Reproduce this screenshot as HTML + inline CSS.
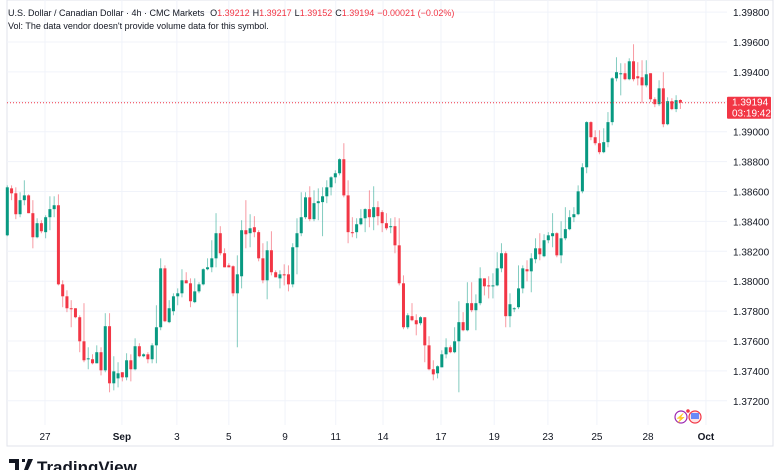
<!DOCTYPE html>
<html><head><meta charset="utf-8"><style>
body{margin:0;background:#fff;width:780px;height:470px;overflow:hidden;font-family:"Liberation Sans",sans-serif}
svg{position:absolute;left:0;top:0}
</style></head><body>
<svg id="chart" width="780" height="470">
<rect x="7" y="0" width="766" height="446" fill="none" stroke="#e0e3eb" stroke-width="1"/>
<g id="grid"></g>
<g id="candles"></g>
<g id="yaxis"></g>
<g id="xaxis"></g>
<text x="8" y="16" font-size="9" fill="#131722">U.S. Dollar / Canadian Dollar · 4h · CMC Markets <tspan dx="3">O</tspan><tspan fill="#f23645">1.39212</tspan><tspan dx="3">H</tspan><tspan fill="#f23645">1.39217</tspan><tspan dx="3">L</tspan><tspan fill="#f23645">1.39152</tspan><tspan dx="3">C</tspan><tspan fill="#f23645">1.39194</tspan><tspan dx="3" fill="#f23645">−0.00021 (−0.02%)</tspan></text>
<text x="8" y="29" font-size="9" fill="#131722">Vol: The data vendor doesn't provide volume data for this symbol.</text>
<g>
<circle cx="681" cy="417" r="6" fill="#fff" stroke="#9c27b0" stroke-width="1.2"/>
<text x="681" y="421" font-size="9" fill="#9c27b0" text-anchor="middle">⚡</text>
<circle cx="695" cy="417" r="6" fill="#fde4e6" stroke="#f23645" stroke-width="1.2"/>
<rect x="691" y="413" width="8" height="6" fill="#2962ff" opacity="0.7"/>
<circle cx="688" cy="411" r="1.8" fill="#f23645"/>
</g>
<g>
<path d="M9 459h10v11h-4v-7h-6z M22 459h3v3h-3z M28 459h5l-5 11h-4z" fill="#131722"/>
<text x="37" y="473" font-size="17" fill="#131722" font-weight="bold">TradingView</text>
</g>
</svg>
<script>
const open=[1.38307,1.38621,1.38588,1.38448,1.38542,1.38574,1.38455,1.38294,1.38388,1.38328,1.38428,1.38482,1.38508,1.37979,1.37899,1.37819,1.37819,1.37759,1.37598,1.37478,1.37478,1.37451,1.37525,1.37404,1.37699,1.37317,1.37350,1.37391,1.37357,1.37471,1.37411,1.37565,1.37498,1.37511,1.37478,1.37571,1.37692,1.38086,1.37726,1.37799,1.37899,1.37919,1.38006,1.37986,1.37860,1.37932,1.37979,1.38080,1.38093,1.38153,1.38321,1.38187,1.38106,1.38100,1.37919,1.38033,1.38341,1.38321,1.38361,1.38328,1.38153,1.38006,1.38207,1.38060,1.38019,1.38046,1.38046,1.37979,1.38227,1.38321,1.38428,1.38561,1.38415,1.38522,1.38529,1.38568,1.38628,1.38695,1.38722,1.38816,1.38574,1.38328,1.38328,1.38381,1.38421,1.38482,1.38428,1.38495,1.38462,1.38388,1.38361,1.38368,1.38240,1.37986,1.37692,1.37766,1.37739,1.37719,1.37759,1.37571,1.37411,1.37384,1.37424,1.37511,1.37558,1.37525,1.37598,1.37726,1.37672,1.37853,1.37806,1.37853,1.38019,1.37972,1.37966,1.37972,1.38086,1.38187,1.37766,1.37813,1.37826,1.37952,1.38080,1.38066,1.38147,1.38220,1.38167,1.38274,1.38301,1.38321,1.38173,1.38287,1.38348,1.38428,1.38448,1.38601,1.38762,1.39064,1.38963,1.38923,1.38863,1.38930,1.39064,1.39357,1.39384,1.39391,1.39351,1.39471,1.39371,1.39364,1.39310,1.39391,1.39217,1.39184,1.39290,1.39050,1.39204,1.39151,1.39212];
const high=[1.38641,1.38641,1.38628,1.38595,1.38675,1.38581,1.38542,1.38421,1.38408,1.38441,1.38568,1.38568,1.38581,1.38006,1.37939,1.37873,1.37819,1.37772,1.37853,1.37558,1.37511,1.37571,1.37558,1.37786,1.37786,1.37498,1.37458,1.37391,1.37518,1.37511,1.37618,1.37585,1.37518,1.37525,1.37585,1.37839,1.38153,1.38106,1.37873,1.37919,1.37952,1.38080,1.38060,1.38019,1.38019,1.37993,1.38086,1.38153,1.38274,1.38455,1.38368,1.38220,1.38120,1.38106,1.38173,1.38408,1.38542,1.38448,1.38435,1.38341,1.38254,1.38267,1.38334,1.38073,1.38073,1.38113,1.38106,1.38254,1.38421,1.38595,1.38595,1.38635,1.38608,1.38621,1.38628,1.38675,1.38702,1.38742,1.38822,1.38923,1.38675,1.38428,1.38421,1.38482,1.38488,1.38608,1.38635,1.38535,1.38475,1.38455,1.38421,1.38428,1.38421,1.38039,1.37786,1.37853,1.37779,1.37766,1.37759,1.37632,1.37471,1.37437,1.37538,1.37618,1.37571,1.37692,1.37866,1.37793,1.37993,1.37993,1.37912,1.38093,1.38019,1.38033,1.38053,1.38194,1.38254,1.38200,1.37919,1.37826,1.38106,1.38106,1.38140,1.38187,1.38287,1.38321,1.38314,1.38328,1.38455,1.38328,1.38401,1.38495,1.38475,1.38495,1.38641,1.38789,1.39070,1.39070,1.39010,1.39010,1.39023,1.39131,1.39364,1.39498,1.39458,1.39458,1.39491,1.39585,1.39465,1.39478,1.39478,1.39391,1.39230,1.39344,1.39398,1.39230,1.39224,1.39244,1.39217];
const low=[1.38301,1.38542,1.38415,1.38428,1.38508,1.38455,1.38220,1.38287,1.38321,1.38287,1.38341,1.38428,1.37972,1.37826,1.37793,1.37692,1.37752,1.37525,1.37458,1.37411,1.37444,1.37451,1.37370,1.37391,1.37257,1.37270,1.37290,1.37330,1.37337,1.37330,1.37404,1.37491,1.37491,1.37451,1.37451,1.37451,1.37672,1.37726,1.37719,1.37772,1.37839,1.37892,1.37986,1.37826,1.37853,1.37919,1.37972,1.38073,1.38060,1.38093,1.38173,1.38093,1.38093,1.37899,1.37558,1.37952,1.38220,1.38227,1.38294,1.38133,1.37986,1.37879,1.38039,1.38026,1.37952,1.37972,1.37932,1.37959,1.38046,1.38301,1.38415,1.38401,1.38401,1.38408,1.38301,1.38522,1.38574,1.38655,1.38708,1.38561,1.38254,1.38294,1.38287,1.38374,1.38328,1.38361,1.38341,1.38374,1.38328,1.38341,1.38321,1.38187,1.37972,1.37679,1.37679,1.37732,1.37638,1.37705,1.37458,1.37404,1.37337,1.37350,1.37424,1.37484,1.37518,1.37518,1.37257,1.37665,1.37665,1.37793,1.37672,1.37839,1.37905,1.37885,1.37885,1.37966,1.38060,1.37692,1.37692,1.37793,1.37813,1.37919,1.37999,1.37926,1.38120,1.38140,1.38160,1.38254,1.38227,1.38160,1.38120,1.38274,1.38341,1.38395,1.38441,1.38588,1.38722,1.38943,1.38909,1.38849,1.38856,1.38896,1.39043,1.39337,1.39243,1.39344,1.39344,1.39337,1.39310,1.39191,1.39297,1.39198,1.39164,1.39171,1.39030,1.39043,1.39144,1.39131,1.39152];
const close=[1.38628,1.38588,1.38448,1.38542,1.38574,1.38455,1.38294,1.38388,1.38334,1.38428,1.38482,1.38508,1.37979,1.37899,1.37819,1.37813,1.37759,1.37598,1.37471,1.37484,1.37451,1.37525,1.37404,1.37699,1.37317,1.37397,1.37384,1.37357,1.37471,1.37411,1.37565,1.37498,1.37511,1.37478,1.37571,1.37692,1.38086,1.37732,1.37819,1.37899,1.37919,1.38006,1.37986,1.37866,1.37932,1.37979,1.38080,1.38093,1.38153,1.38321,1.38187,1.38093,1.38093,1.37919,1.38046,1.38341,1.38314,1.38354,1.38328,1.38153,1.38006,1.38207,1.38060,1.38026,1.38046,1.38039,1.37979,1.38227,1.38321,1.38428,1.38561,1.38415,1.38522,1.38535,1.38568,1.38628,1.38695,1.38722,1.38816,1.38574,1.38328,1.38321,1.38381,1.38421,1.38482,1.38428,1.38495,1.38435,1.38388,1.38354,1.38368,1.38240,1.37986,1.37692,1.37772,1.37739,1.37712,1.37759,1.37571,1.37411,1.37377,1.37431,1.37511,1.37558,1.37525,1.37598,1.37726,1.37672,1.37853,1.37806,1.37853,1.38019,1.37966,1.37966,1.37972,1.38086,1.38187,1.37766,1.37846,1.37819,1.37952,1.38086,1.38066,1.38153,1.38220,1.38180,1.38274,1.38307,1.38321,1.38173,1.38287,1.38348,1.38428,1.38448,1.38601,1.38762,1.39064,1.38963,1.38923,1.38863,1.38930,1.39064,1.39357,1.39398,1.39391,1.39351,1.39471,1.39351,1.39357,1.39310,1.39384,1.39217,1.39184,1.39290,1.39050,1.39204,1.39151,1.39211,1.39194];
const priceTicks=[1.398,1.396,1.394,1.392,1.390,1.388,1.386,1.384,1.382,1.380,1.378,1.376,1.374,1.372];
const timeLabels=["27","Sep","3","5","9","11","14","17","19","23","25","28","Oct"];
const timeIdx=[8.85,26.9,39.8,52,65.2,77.1,88.2,101.8,114.3,126.9,138.4,150.4,164];
const boldLabels=["Sep","Oct"];
const lastPrice=1.39194, countdown="03:19:42";

const NS="http://www.w3.org/2000/svg";
const yS=p=>42+(1.396-p)/0.002*29.9;
const xS=i=>7.3+i*4.26;
function mk(tag,attrs,parent){const e=document.createElementNS(NS,tag);for(const k in attrs)e.setAttribute(k,attrs[k]);parent.appendChild(e);return e;}
const grid=document.getElementById('grid'),cg=document.getElementById('candles'),ya=document.getElementById('yaxis'),xa=document.getElementById('xaxis');
priceTicks.forEach(p=>{
  const l=mk('line',{x1:7,x2:727,y1:yS(p),y2:yS(p),stroke:'#f0f3fa'},grid);
  
  
  const t=mk('text',{x:733,y:yS(p)+4,'font-size':10,fill:'#131722'},ya);
  t.textContent=p.toFixed(5);
  
  
});
timeLabels.forEach((s,k)=>{
  const x=xS(timeIdx[k]);
  const l=mk('line',{x1:x,x2:x,y1:0,y2:425,stroke:'#f0f3fa'},grid);
  
  
  const t=mk('text',{x:x,y:440,'font-size':10,fill:'#131722','text-anchor':'middle','font-weight':boldLabels.includes(s)?'bold':'normal'},xa);
  t.textContent=s;
  
  
});
for(let i=0;i<open.length;i++){
  const up=close[i]>=open[i],col=up?'#089981':'#f23645',x=xS(i);
  const w=mk('line',{x1:x,x2:x,y1:yS(high[i]),y2:yS(low[i]),stroke:col,'stroke-opacity':0.5,'stroke-width':1},cg);
  
  
  const top=yS(Math.max(open[i],close[i])),bot=yS(Math.min(open[i],close[i]));
  const b=mk('rect',{x:x-1.5,y:top,width:3,height:Math.max(1,bot-top),fill:col},cg);
  
  
}
const ly=yS(lastPrice);
const pl=mk('line',{x1:7,x2:727,y1:ly,y2:ly,stroke:'#f23645','stroke-dasharray':'1,2','stroke-width':1},cg);


const box=mk('rect',{x:727,y:ly-6,width:44,height:22,fill:'#f23645',rx:1},ya);


const t1=mk('text',{x:732,y:ly+3,'font-size':10,fill:'#fff'},ya);t1.textContent=lastPrice.toFixed(5);


const t2=mk('text',{x:732,y:ly+14,'font-size':10,fill:'#fff'},ya);t2.textContent=countdown;


</script>
</body></html>
